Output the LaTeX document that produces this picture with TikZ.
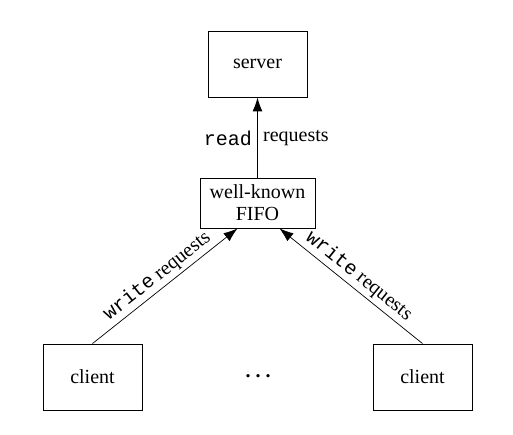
\documentclass[tikz,border=0pt]{standalone}
\usepackage{fontspec}
\setmainfont{Liberation Serif}
\setmonofont{Liberation Mono}
\usetikzlibrary{arrows.meta}
\begin{document}
\begin{tikzpicture}[x=1pt,y=-1pt,
  box/.style={draw,line width=0.9pt,inner sep=0pt,align=center,font=\fontsize{20}{22}\selectfont},
  lbl/.style={font=\fontsize{20}{22}\selectfont,inner sep=2pt},
  arr/.style={-{Latex[length=14pt,width=10pt]},line width=0.7pt}]
\useasboundingbox (0,0) rectangle (513,435);
\node[box,minimum width=99pt,minimum height=66pt] (server) at (257.5,64) {server};
\node[box,minimum width=115pt,minimum height=50pt] (fifo) at (257.5,203) {well-known\\FIFO};
\node[box,minimum width=99pt,minimum height=66pt] (c1) at (92.5,377) {client};
\node[box,minimum width=99pt,minimum height=66pt] (c2) at (422.5,377) {client};
\node[lbl] (dots) at (258,376) {\textbf{.\hspace{5pt}.\hspace{5pt}.}};
\draw[arr,line width=0.9pt] (fifo.north) -- (server.south);
\node[lbl,anchor=east] (rd) at (254,138) {\texttt{read}};
\node[lbl,anchor=west] (rq) at (261,138) {requests};
\draw[arr] (c1.north) -- ([xshift=-20pt]fifo.south)
  node[lbl,midway,sloped,above,inner sep=3pt] (wl) {\texttt{write} requests};
\draw[arr] (c2.north) -- ([xshift=22pt]fifo.south)
  node[lbl,midway,sloped,above,inner sep=3pt] (wr) {\texttt{write} requests};
\end{tikzpicture}
\end{document}
